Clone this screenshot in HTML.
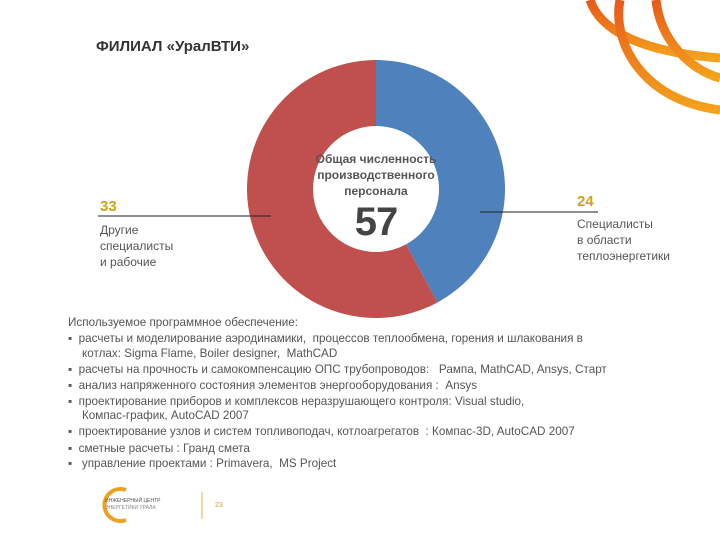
<!DOCTYPE html>
<html><head><meta charset="utf-8">
<style>
body{margin:0;width:720px;height:540px;background:#fff;overflow:hidden;position:relative;font-family:"Liberation Sans","DejaVu Sans",sans-serif;}
.t{position:absolute;white-space:nowrap;color:#555;font-size:11.7px;}
</style></head><body>
<svg width="720" height="540" style="position:absolute;left:0;top:0">
  <defs>
    <linearGradient id="og" x1="0" y1="0" x2="0" y2="1">
      <stop offset="0" stop-color="#e8591a"/><stop offset="1" stop-color="#f3a21c"/>
    </linearGradient>
  </defs>
  <g fill="none" stroke="url(#og)" stroke-width="9">
    <path d="M590,0 C600,30 640,52 720,58"/>
    <path d="M620,0 C612,40 640,100 720,110"/>
    <path d="M656,0 C660,40 690,70 720,78"/>
  </g>
  <g id="donut"></g>
  <line x1="98" y1="216" x2="271" y2="216" stroke="#222" stroke-width="1"/>
  <line x1="480" y1="212" x2="598" y2="212" stroke="#222" stroke-width="1"/>
  <g>
    <path d="M126,490 A16,16 0 1 0 126,520" fill="none" stroke="#f0a020" stroke-width="4"/>
    <text x="105" y="502" font-size="5" fill="#555">ИНЖЕНЕРНЫЙ ЦЕНТР</text>
    <text x="105" y="509" font-size="5" fill="#888">ЭНЕРГЕТИКИ  УРАЛА</text>
    <line x1="202" y1="492" x2="202" y2="519" stroke="#e0b040" stroke-width="1"/>
    <text x="215" y="507" font-size="7" fill="#d4a017">23</text>
  </g>
</svg>
<div class="t" style="left:96px;top:38px;font-size:15px;font-weight:bold;color:#333">ФИЛИАЛ «УралВТИ»</div>
<div class="t" style="left:300px;top:151px;width:152px;text-align:center;font-size:12px;font-weight:bold;line-height:16px;color:#555">Общая численность<br>производственного<br>персонала</div>
<div class="t" style="left:300px;top:200px;width:152px;text-align:center;font-size:40px;font-weight:bold;color:#444;letter-spacing:-1px">57</div>
<div class="t" style="left:100px;top:198px;font-size:15px;font-weight:bold;color:#d4a017">33</div>
<div class="t" style="left:100px;top:222px;font-size:12px;line-height:16px;color:#555">Другие<br>специалисты<br>и рабочие</div>
<div class="t" style="left:577px;top:193px;font-size:15px;font-weight:bold;color:#d4a017">24</div>
<div class="t" style="left:577px;top:216px;font-size:12px;line-height:16px;color:#555">Специалисты<br>в области<br>теплоэнергетики</div>
<div>
<div class="t" style="left:68px;top:316px">Используемое программное обеспечение:</div>
<div class="t" style="left:68px;top:332px">▪&nbsp;&nbsp;расчеты и моделирование аэродинамики,&nbsp; процессов теплообмена, горения и шлакования в</div>
<div class="t" style="left:82px;top:347px">котлах: Sigma Flame, Boiler designer,&nbsp; MathCAD</div>
<div class="t" style="left:68px;top:363px">▪&nbsp;&nbsp;расчеты на прочность и самокомпенсацию ОПС трубопроводов:&nbsp;&nbsp; Рампа, MathCAD, Ansys, Старт</div>
<div class="t" style="left:68px;top:379px">▪&nbsp;&nbsp;анализ напряженного состояния элементов энергооборудования :&nbsp; Ansys</div>
<div class="t" style="left:68px;top:395px">▪&nbsp;&nbsp;проектирование приборов и комплексов неразрушающего контроля: Visual studio,</div>
<div class="t" style="left:82px;top:409px">Компас-график, AutoCAD 2007</div>
<div class="t" style="left:68px;top:425px">▪&nbsp;&nbsp;проектирование узлов и систем топливоподач, котлоагрегатов&nbsp; : Компас-3D, AutoCAD 2007</div>
<div class="t" style="left:68px;top:442px">▪&nbsp;&nbsp;сметные расчеты : Гранд смета</div>
<div class="t" style="left:68px;top:457px">▪&nbsp;&nbsp; управление проектами : Primavera,&nbsp; MS Project</div>
</div>
<script>
const categories = ["Специалисты в области теплоэнергетики", "Другие специалисты и рабочие"];
const values = [24, 33];
const colors = ["#4f81bd", "#c0504d"];
const g = document.getElementById('donut');
const cx = 376, cy = 189, R = 129, r = 63;
const total = values.reduce((a, b) => a + b, 0);
let a0 = 0;
function pt(rad, ang){ return [cx + rad*Math.sin(ang), cy - rad*Math.cos(ang)]; }
values.forEach((v, i) => {
  const a1 = a0 + v/total*2*Math.PI;
  const large = (a1 - a0) > Math.PI ? 1 : 0;
  const [x0,y0] = pt(R,a0), [x1,y1] = pt(R,a1), [x2,y2] = pt(r,a1), [x3,y3] = pt(r,a0);
  const p = document.createElementNS('http://www.w3.org/2000/svg','path');
  p.setAttribute('d', `M${x0},${y0} A${R},${R} 0 ${large} 1 ${x1},${y1} L${x2},${y2} A${r},${r} 0 ${large} 0 ${x3},${y3} Z`);
  p.setAttribute('fill', colors[i]);
  
  
  g.appendChild(p);
  a0 = a1;
});
</script>
</body></html>
